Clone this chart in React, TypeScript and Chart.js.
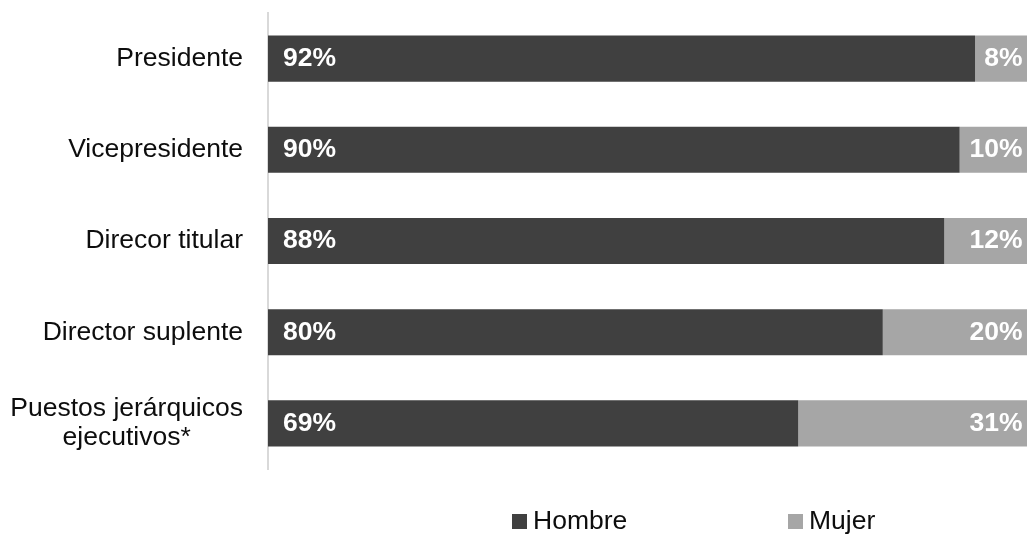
import React, { useEffect, useRef } from "react";
import { Chart, registerables } from "chart.js";

Chart.register(...registerables);

const categories: (string | string[])[] = [
  "Presidente",
  "Vicepresidente",
  "Direcor titular",
  "Director suplente",
  ["Puestos jerárquicos", "ejecutivos*"],
];
const seriesNames = ["Hombre", "Mujer"];
const hombreValues = [92, 90, 88, 80, 69];
const mujerValues = [8, 10, 12, 20, 31];
const seriesColors = ["#404040", "#A6A6A6"];

const FONT = "'Liberation Sans', Arial, sans-serif";

const labelsPlugin = {
  id: "customLabels",
  afterDatasetsDraw(chart: any) {
    const ctx = chart.ctx;
    ctx.save();
    ctx.font = `bold 26.5px ${FONT}`;
    ctx.fillStyle = "#FFFFFF";
    ctx.textBaseline = "middle";
    chart.data.datasets.forEach((ds: any, i: number) => {
      const meta = chart.getDatasetMeta(i);
      meta.data.forEach((bar: any, j: number) => {
        const { x, y, base } = bar.getProps(["x", "y", "base"], true);
        const txt = ds.data[j] + "%";
        if (i === 0) {
          ctx.textAlign = "left";
          ctx.fillText(txt, Math.min(x, base) + 15, y);
        } else {
          ctx.textAlign = "right";
          ctx.fillText(txt, Math.max(x, base) - 14, y);
        }
      });
    });
    ctx.restore();
  },
  afterDraw(chart: any) {
    const ctx = chart.ctx;
    const yScale = chart.scales.y;
    ctx.save();
    // category labels
    ctx.font = `26.5px ${FONT}`;
    ctx.fillStyle = "#0D0D0D";
    ctx.textBaseline = "middle";
    ctx.textAlign = "center";
    const right = yScale.right - 25;
    const lineHeight = 29;
    chart.data.labels.forEach((lab: any, j: number) => {
      const lines: string[] = Array.isArray(lab) ? lab : [lab];
      const yc = yScale.getPixelForTick(j);
      const maxW = Math.max(...lines.map((l) => ctx.measureText(l).width));
      const cx = right - maxW / 2;
      lines.forEach((l, k) => {
        ctx.fillText(l, cx, yc + (k - (lines.length - 1) / 2) * lineHeight);
      });
    });
    // legend
    const legendY = 521.5;
    const starts = [512, 788];
    const box = 15;
    ctx.textAlign = "left";
    chart.data.datasets.forEach((ds: any, i: number) => {
      const x0 = starts[i];
      ctx.fillStyle = ds.backgroundColor;
      ctx.fillRect(x0, legendY - box / 2, box, box);
      ctx.fillStyle = "#0D0D0D";
      ctx.fillText(ds.label, x0 + box + 6, legendY);
    });
    ctx.restore();
  },
};

export default function App() {
  const ref = useRef<HTMLCanvasElement>(null);
  useEffect(() => {
    if (!ref.current) return;
    const chart = new Chart(ref.current, {
      type: "bar",
      data: {
        labels: categories as any,
        datasets: [
          {
            label: seriesNames[0],
            data: hombreValues,
            backgroundColor: seriesColors[0],
            borderWidth: 0,
            barPercentage: 0.505,
            categoryPercentage: 1,
          },
          {
            label: seriesNames[1],
            data: mujerValues,
            backgroundColor: seriesColors[1],
            borderWidth: 0,
            barPercentage: 0.505,
            categoryPercentage: 1,
          },
        ],
      },
      options: {
        indexAxis: "y",
        animation: false,
        responsive: true,
        maintainAspectRatio: false,
        events: [],
        layout: { padding: { top: 13, bottom: 65, left: 0, right: 3.5 } },
        plugins: {
          legend: { display: false },
          tooltip: { enabled: false },
        },
        scales: {
          x: {
            stacked: true,
            min: 0,
            max: 100,
            display: false,
          },
          y: {
            stacked: true,
            grid: { display: false, drawTicks: false },
            border: { display: true, color: "#D9D9D9", width: 2 },
            ticks: { display: false },
            afterFit: (s: any) => {
              s.width = 268;
            },
          },
        },
      },
      plugins: [labelsPlugin],
    });
    return () => chart.destroy();
  }, []);
  return (
    <div
      style={{
        position: "fixed",
        left: 0,
        top: 0,
        width: 1027,
        height: 534,
        overflow: "hidden",
        background: "#FFFFFF",
      }}
    >
      <div style={{ position: "absolute", left: 0, top: 0, width: 1040, height: 534 }}>
        <canvas ref={ref} />
      </div>
    </div>
  );
}
